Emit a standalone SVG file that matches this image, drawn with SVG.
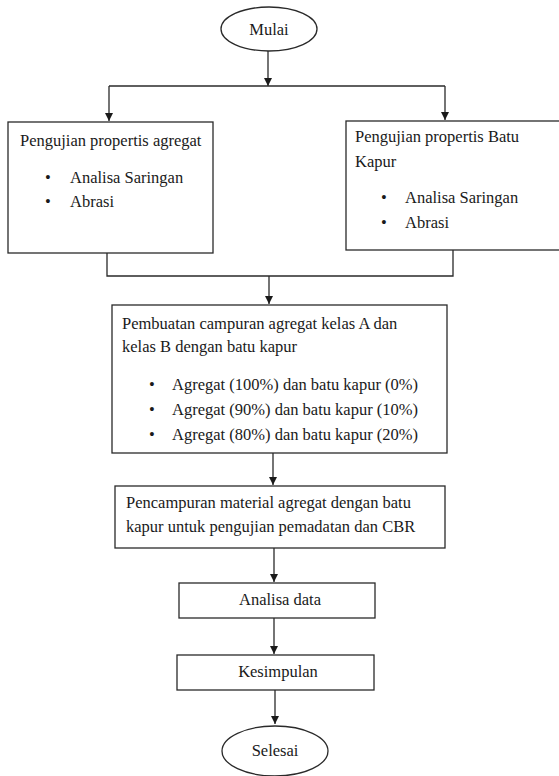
<svg xmlns="http://www.w3.org/2000/svg" width="559" height="776" viewBox="0 0 559 776">
<style>
.bg{fill:#ffffff}
.box{fill:#ffffff;stroke:#2a2a2a;stroke-width:1.3}
.ln{fill:none;stroke:#2a2a2a;stroke-width:1.3}
.t{font-family:'Liberation Serif','DejaVu Serif',serif;font-size:16.5px;fill:#1a1a1a}
.c{text-anchor:middle}
</style>
<defs>
<marker id="ah" markerUnits="userSpaceOnUse" markerWidth="8" markerHeight="9" refX="8" refY="4" orient="auto">
<path d="M0,0 L8,4 L0,8 Z" fill="#1a1a1a"/>
</marker>
</defs>
<rect class="bg" x="0" y="0" width="559" height="776"/>
<g id="connectors">
<line class="ln" x1="268" y1="51" x2="268" y2="86" marker-end="url(#ah)"/>
<line class="ln" x1="109" y1="86" x2="445" y2="86"/>
<line class="ln" x1="109" y1="86" x2="109" y2="121" marker-end="url(#ah)"/>
<line class="ln" x1="445" y1="86" x2="445" y2="120" marker-end="url(#ah)"/>
<polyline class="ln" points="107,253 107,276 453,276 453,250"/>
<line class="ln" x1="269" y1="276" x2="269" y2="304" marker-end="url(#ah)"/>
<line class="ln" x1="273" y1="453" x2="273" y2="485" marker-end="url(#ah)"/>
<line class="ln" x1="274" y1="548" x2="274" y2="582" marker-end="url(#ah)"/>
<line class="ln" x1="274" y1="618" x2="274" y2="654" marker-end="url(#ah)"/>
<line class="ln" x1="275" y1="690" x2="275" y2="724" marker-end="url(#ah)"/>
</g>
<g class="t">
<g id="mulai">
<ellipse class="box" cx="269" cy="29" rx="48" ry="22"/>
<text class="c" x="269" y="35">Mulai</text>
</g>
<g id="uji-agregat">
<rect class="box" x="8" y="122" width="205" height="131"/>
<text x="20" y="146">Pengujian propertis agregat</text>
<text x="45" y="183">•</text><text x="70" y="183">Analisa Saringan</text>
<text x="45" y="207">•</text><text x="70" y="207">Abrasi</text>
</g>
<g id="uji-batu-kapur">
<rect class="box" x="346" y="121" width="222" height="129"/>
<text x="355" y="142">Pengujian propertis Batu</text>
<text x="355" y="167">Kapur</text>
<text x="381" y="203">•</text><text x="405" y="203">Analisa Saringan</text>
<text x="381" y="228">•</text><text x="405" y="228">Abrasi</text>
</g>
<g id="pembuatan">
<rect class="box" x="112" y="305" width="335" height="148"/>
<text x="122" y="329">Pembuatan campuran agregat kelas A dan</text>
<text x="122" y="352">kelas B dengan batu kapur</text>
<text x="149" y="390">•</text><text x="172" y="390">Agregat (100%) dan batu kapur (0%)</text>
<text x="149" y="415">•</text><text x="172" y="415">Agregat (90%) dan batu kapur (10%)</text>
<text x="149" y="440">•</text><text x="172" y="440">Agregat (80%) dan batu kapur (20%)</text>
</g>
<g id="pencampuran">
<rect class="box" x="115" y="486" width="330" height="62"/>
<text x="126" y="508">Pencampuran material agregat dengan batu</text>
<text x="126" y="532">kapur untuk pengujian pemadatan dan CBR</text>
</g>
<g id="analisa-data">
<rect class="box" x="179" y="583" width="196" height="35"/>
<text class="c" x="280" y="605">Analisa data</text>
</g>
<g id="kesimpulan">
<rect class="box" x="177" y="655" width="197" height="35"/>
<text class="c" x="278" y="677">Kesimpulan</text>
</g>
<g id="selesai">
<ellipse class="box" cx="275" cy="751" rx="53" ry="25"/>
<text class="c" x="275" y="756">Selesai</text>
</g>
</g>
</svg>
